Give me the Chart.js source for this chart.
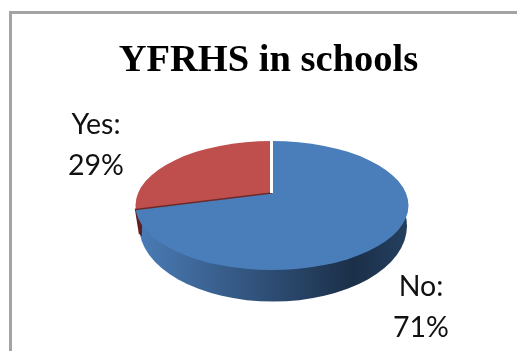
<!DOCTYPE html>
<html>
<head>
<meta charset="utf-8">
<title>YFRHS in schools</title>
<script src="https://cdn.jsdelivr.net/npm/chart.js@4"></script>
<style>
    html, body { margin: 0; padding: 0; background: #fff; overflow: hidden; }
    #chart { display: block; width: 517px; height: 351px; }
</style>
</head>
<body>
<canvas id="chart" width="517" height="351"></canvas>
<script>
const answers = ['No', 'Yes'];
const shares = [71, 29];
const sliceColors = ['#4a7ebb', '#be4f4c'];

// tilted pie: face ellipse, rim ellipse and the point the slices meet at
const face = { x: 272, y: 205.5, rx: 136.5, ry: 64.5 };
const rim = { x: 273, y: 226, rx: 134, ry: 75.6 };
const apex = { x: 271.5, y: 193 };
const tilt = 0.4725;
const reach = 190;

const labelSpots = [
    { x: 421, y: 287, gap: 41 },
    { x: 96, y: 125, gap: 41 },
];

// where a ray from the apex leaves the face ellipse
function faceEdge(angle) {
    const dx = Math.cos(angle) / face.rx;
    const dy = Math.sin(angle) * tilt / face.ry;
    const ox = (apex.x - face.x) / face.rx;
    const oy = (apex.y - face.y) / face.ry;
    const a = dx * dx + dy * dy;
    const b = 2 * (ox * dx + oy * dy);
    const c = ox * ox + oy * oy - 1;
    const t = (-b + Math.sqrt(b * b - 4 * a * c)) / (2 * a);
    return { x: apex.x + Math.cos(angle) * t, y: apex.y + Math.sin(angle) * tilt * t };
}

const tiltedPie = {
    id: 'tiltedPie',
    beforeDraw(chart) {
        const { ctx, width, height } = chart;
        ctx.save();
        ctx.fillStyle = '#fff';
        ctx.fillRect(0, 0, width, height);
        ctx.strokeStyle = '#a3a3a3';
        ctx.lineWidth = 3;
        ctx.beginPath();
        ctx.moveTo(10.5, height);
        ctx.lineTo(10.5, 12.5);
        ctx.lineTo(width, 12.5);
        ctx.stroke();
        ctx.restore();
    },
    beforeDatasetsDraw(chart) {
        const { ctx } = chart;
        const arc = chart.getDatasetMeta(0).data[0];
        const edge = faceEdge(arc.endAngle);

        // side wall under the face
        const wall = ctx.createLinearGradient(rim.x - rim.rx, 0, rim.x + rim.rx, 0);
        wall.addColorStop(0, '#4a7cb6');
        wall.addColorStop(0.28, '#3a6190');
        wall.addColorStop(0.52, '#2c4a70');
        wall.addColorStop(0.8, '#1b2f48');
        wall.addColorStop(1, '#24405f');
        ctx.save();
        ctx.fillStyle = wall;
        ctx.beginPath();
        ctx.ellipse(rim.x, rim.y, rim.rx, rim.ry, 0, 0, Math.PI * 2);
        ctx.fill();

        // cut face of the red slice showing at the left
        ctx.fillStyle = '#5e211f';
        ctx.beginPath();
        ctx.moveTo(edge.x - 1, edge.y - 1);
        ctx.lineTo(edge.x + 7, edge.y);
        ctx.lineTo(edge.x + 6, edge.y + 27);
        ctx.lineTo(edge.x + 3, edge.y + 24);
        ctx.closePath();
        ctx.fill();
        ctx.restore();

        // slices are drawn oversize around the apex and cut to the face
        ctx.save();
        ctx.beginPath();
        ctx.ellipse(face.x, face.y, face.rx, face.ry, 0, 0, Math.PI * 2);
        ctx.clip();
        const k = reach / arc.outerRadius;
        ctx.translate(apex.x, apex.y);
        ctx.scale(k, k * tilt);
        ctx.translate(-arc.x, -arc.y);
    },
    afterDatasetsDraw(chart) {
        const { ctx } = chart;
        ctx.restore();

        const arc = chart.getDatasetMeta(0).data[0];
        const edge = faceEdge(arc.endAngle);
        const top = faceEdge(arc.startAngle);

        ctx.save();
        ctx.strokeStyle = '#6e2a28';
        ctx.lineWidth = 1.5;
        ctx.beginPath();
        ctx.moveTo(apex.x, apex.y);
        ctx.lineTo(edge.x, edge.y);
        ctx.stroke();

        ctx.strokeStyle = '#fff';
        ctx.lineWidth = 3;
        ctx.beginPath();
        ctx.moveTo(apex.x, apex.y);
        ctx.lineTo(top.x, top.y - 1);
        ctx.stroke();

        ctx.fillStyle = '#111';
        ctx.font = '28.5px Lato';
        ctx.textAlign = 'center';
        ctx.textBaseline = 'middle';
        answers.forEach((answer, i) => {
            const spot = labelSpots[i];
            ctx.fillText(`${answer}:`, spot.x, spot.y);
            ctx.fillText(`${shares[i]}%`, spot.x, spot.y + spot.gap);
        });
        ctx.restore();
    },
};

new Chart(document.getElementById('chart'), {
    type: 'pie',
    data: {
        labels: answers,
        datasets: [{
            data: shares,
            backgroundColor: sliceColors,
            borderWidth: 0,
            clip: false,
        }],
    },
    options: {
        responsive: false,
        animation: false,
        layout: { padding: { left: 20, top: 38 } },
        events: [],
        plugins: {
            legend: { display: false },
            tooltip: { enabled: false },
            title: {
                display: true,
                text: 'YFRHS in schools',
                color: '#000',
                font: { family: '"Liberation Serif"', size: 38.5, weight: 'bold' },
                padding: { top: 0, bottom: 10 },
            },
        },
    },
    plugins: [tiltedPie],
});
</script>
</body>
</html>
